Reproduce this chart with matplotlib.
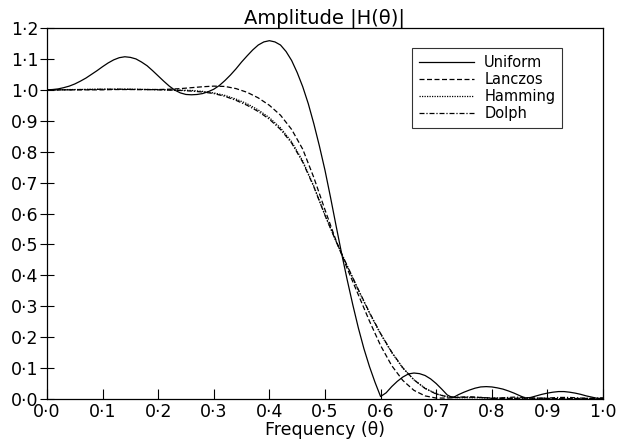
import numpy as np
import matplotlib
matplotlib.use("Agg")
import matplotlib.pyplot as plt
from matplotlib.ticker import FuncFormatter, MultipleLocator

# Frequency grids (theta) and amplitudes
theta_u = np.round(np.arange(0, 1.0001, 0.01), 2)
theta = np.round(np.arange(0, 1.0001, 0.02), 2)

uniform = [1.000, 1.001, 1.003, 1.007, 1.012, 1.019, 1.028, 1.038, 1.050, 1.062,
           1.075, 1.087, 1.097, 1.104, 1.107, 1.105, 1.100, 1.090, 1.078, 1.062,
           1.045, 1.028, 1.012, 0.999, 0.990, 0.985, 0.984, 0.985, 0.988, 0.994,
           1.002, 1.014, 1.030, 1.048, 1.068, 1.090, 1.110, 1.129, 1.145, 1.155,
           1.159, 1.155, 1.145, 1.124, 1.095, 1.056, 1.010, 0.955, 0.890, 0.818,
           0.740, 0.652, 0.560, 0.470, 0.385, 0.305, 0.230, 0.163, 0.105, 0.054,
           0.008, 0.020, 0.040, 0.057, 0.071, 0.081, 0.084, 0.082, 0.076, 0.065,
           0.050, 0.032, 0.013, 0.004, 0.014, 0.022, 0.029, 0.035, 0.039, 0.040,
           0.039, 0.036, 0.032, 0.026, 0.019, 0.011, 0.003, 0.005, 0.010, 0.015,
           0.019, 0.022, 0.024, 0.024, 0.022, 0.019, 0.015, 0.010, 0.006, 0.002,
           0.000]

lanczos = [1.000, 1.000, 1.000, 1.000, 1.000, 1.000, 1.001, 1.001, 1.001, 1.001,
           1.001, 1.002, 1.004, 1.007, 1.010, 1.012, 1.011, 1.004, 0.992, 0.974,
           0.950, 0.918, 0.872, 0.808, 0.716, 0.612, 0.512, 0.422, 0.337, 0.252,
           0.173, 0.108, 0.060, 0.028, 0.010, 0.003, 0.003, 0.005, 0.006, 0.005,
           0.003, 0.001, 0.002, 0.003, 0.003, 0.002, 0.001, 0.001, 0.002, 0.002,
           0.002]

hamming = [1.000, 1.000, 1.001, 1.001, 1.002, 1.002, 1.002, 1.002, 1.002, 1.001,
           1.001, 1.000, 0.999, 0.998, 0.995, 0.990, 0.982, 0.970, 0.955, 0.935,
           0.910, 0.877, 0.832, 0.770, 0.688, 0.595, 0.510, 0.430, 0.352, 0.278,
           0.210, 0.150, 0.100, 0.062, 0.035, 0.017, 0.007, 0.004, 0.004, 0.004,
           0.003, 0.003, 0.002, 0.002, 0.002, 0.002, 0.001, 0.001, 0.001, 0.001,
           0.001]

dolph = [1.000, 1.000, 1.000, 1.001, 1.001, 1.002, 1.002, 1.002, 1.001, 1.001,
         1.000, 0.999, 0.998, 0.996, 0.993, 0.988, 0.979, 0.966, 0.950, 0.930,
         0.905, 0.872, 0.828, 0.766, 0.686, 0.594, 0.510, 0.431, 0.354, 0.280,
         0.212, 0.152, 0.101, 0.062, 0.034, 0.016, 0.007, 0.006, 0.007, 0.005,
         0.002, 0.004, 0.006, 0.005, 0.002, 0.003, 0.005, 0.005, 0.003, 0.002,
         0.004]

labels = ["Uniform", "Lanczos", "Hamming", "Dolph"]

plt.rcParams["font.family"] = "DejaVu Sans"
fig = plt.figure(figsize=(6.24, 4.46), dpi=100)
ax = fig.add_axes([0.0753, 0.1054, 0.8910, 0.8318])

lw = 0.9
ax.plot(theta_u, uniform, color="black", lw=lw, label=labels[0])
ax.plot(theta, lanczos, color="black", lw=lw, dashes=(4, 2), label=labels[1])
ax.plot(theta, hamming, color="black", lw=lw, dashes=(1, 1), label=labels[2])
ax.plot(theta, dolph, color="black", lw=lw, dashes=(4, 1.5, 1, 1.5), label=labels[3])

ax.set_xlim(0, 1.0)
ax.set_ylim(0, 1.2)
ax.xaxis.set_major_locator(MultipleLocator(0.1))
ax.yaxis.set_major_locator(MultipleLocator(0.1))
fmt = FuncFormatter(lambda v, pos: f"{v:.1f}".replace(".", "\u00b7"))
ax.xaxis.set_major_formatter(fmt)
ax.yaxis.set_major_formatter(fmt)
ax.tick_params(axis="x", direction="in", length=7, width=0.8, labelsize=12.5, pad=3)
ax.tick_params(axis="y", direction="inout", length=10, width=0.8, labelsize=12.5, pad=1)
for s in ax.spines.values():
    s.set_linewidth(0.9)

ax.set_title("Amplitude |H(\u03b8)|", fontsize=14, pad=3)
ax.set_xlabel("Frequency (\u03b8)", fontsize=12.5, labelpad=0)

leg = ax.legend(loc="upper right", bbox_to_anchor=(0.926, 0.946), borderaxespad=0,
                fontsize=10.5, frameon=True, fancybox=False, edgecolor="black",
                handlelength=3.8, handletextpad=0.7, labelspacing=0.15,
                borderpad=0.45)
leg.get_frame().set_linewidth(0.8)

fig.savefig("out.png", dpi=100)
